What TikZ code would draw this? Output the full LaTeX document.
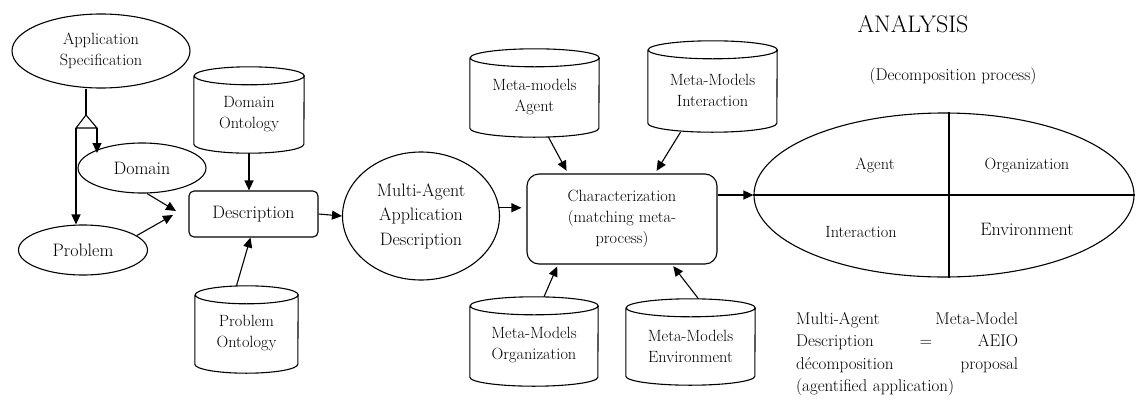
\documentclass[tikz,border=0pt]{standalone}
\usetikzlibrary{arrows.meta,shapes.geometric}
\tikzset{
 ln/.style={line width=1.1pt},
 arr/.style={line width=1.1pt, -{Triangle[length=10pt,width=9pt]}},
 sm/.style={font=\fontsize{16.3}{21}\selectfont, align=center},
 lg/.style={font=\fontsize{18}{24.5}\selectfont, align=center},
 ell/.style={ellipse, draw, line width=1.1pt, inner sep=0pt},
 rbox/.style={rectangle, draw, line width=1.1pt, inner sep=0pt},
 cylbox/.style={inner sep=0pt, rectangle},
}
\newcommand\cylnode[5]{%
 \node[cylbox, minimum width=#3, minimum height=#4] (#1) at #2 {};
 \node[sm, inner sep=0pt] (#1-t) at ([yshift=-4pt]#1.center) {#5};
 \draw[ln] ([yshift=-9pt]#1.north west) -- ([yshift=9pt]#1.south west)
   arc[start angle=180,end angle=360,x radius=#3/2,y radius=9pt]
   -- ([yshift=-9pt]#1.north east)
   arc[start angle=0,end angle=180,x radius=#3/2,y radius=9pt]
   arc[start angle=180,end angle=360,x radius=#3/2,y radius=9pt];
}
\begin{document}
\begin{tikzpicture}[x=1pt,y=-1pt]
\useasboundingbox (0,0) rectangle (1136,410);
% left part
\node[ell, sm, minimum width=178pt, minimum height=74pt] (appspec) at (101,51) {Application\\Specification};
\node[ell, lg, minimum width=128pt, minimum height=50pt] (domain) at (142,168) {Domain};
\node[ell, lg, minimum width=129pt, minimum height=50pt] (problem) at (83,250) {Problem};
\node[rbox, lg, rounded corners=5pt, minimum width=129pt, minimum height=46pt] (desc) at (253.5,214) {Description};
\cylnode{dont}{(249,110)}{110pt}{86pt}{Domain\\Ontology}
\cylnode{pont}{(246.5,329.5)}{103pt}{87pt}{Problem\\Ontology}
% generalization
\coordinate (apex) at (86,115);
\coordinate (tl) at (76,128);
\coordinate (tr) at (97,128);
\coordinate (dtop) at (97,153);
\draw[ln] (apex |- appspec.south) -- (apex);
\draw[ln, fill=white] (apex) -- (tr) -- (tl) -- cycle;
\draw[arr] (tl) -- (tl |- problem.north);
\draw[arr] (tr) -- (dtop);
\coordinate (dtip) at (176,211);
\coordinate (ptip) at (173,215);
\draw[arr] (domain.-79) -- (dtip);
\draw[arr] (problem.15) -- (ptip);
\draw[arr] (dont.south) -- (dont.south |- desc.north);
\draw[arr] ([xshift=-10pt]pont.north) -- ([xshift=-3pt]desc.south);
% middle
\node[ell, lg, minimum width=157pt, minimum height=128pt] (maad) at (421,216) {Multi-Agent\\Application\\Description};
\draw[arr] (desc.east) -- (maad.west);
\node[rbox, sm, rounded corners=12pt, minimum width=190pt, minimum height=90pt] (char) at (622,219) {Characterization\\(matching meta-\\process)};
\draw[arr, shorten >=5pt] (maad.6) -- (maad.6 -| char.west);
\cylnode{mma}{(534.5,93)}{129pt}{88pt}{Meta-models\\Agent}
\cylnode{mmi}{(712.5,86.5)}{129pt}{91pt}{Meta-Models\\Interaction}
\cylnode{mmo}{(534,341.5)}{128pt}{89pt}{Meta-Models\\Organization}
\cylnode{mme}{(690.5,342)}{129pt}{86pt}{Meta-Models\\Environment}
\draw[arr, shorten >=3pt] ([xshift=14pt]mma.south) -- ([xshift=-54pt]char.north);
\draw[arr, shorten >=3pt] ([xshift=-32pt]mmi.south) -- ([xshift=33pt]char.north);
\draw[arr, shorten >=2pt] ([xshift=10pt]mmo.north) -- ([xshift=-64pt]char.south);
\draw[arr, shorten >=2pt] ([xshift=8pt]mme.north) -- ([xshift=50pt]char.south);
% right
\node[ell, minimum width=380pt, minimum height=164pt] (aeio) at (944,195) {};
\draw[ln] (aeio.west) -- (aeio.east);
\draw[ln] ([xshift=5pt]aeio.north) -- ([xshift=5pt]aeio.south);
\draw[arr] (char.east |- aeio.west) -- (aeio.west);
\node[sm] (lagent) at (875,165) {Agent};
\node[sm] (lorg) at (1027,165) {Organization};
\node[sm] (linter) at (861,232) {Interaction};
\node[lg] (lenv) at (1027,229) {Environment};
\node[font=\fontsize{24}{28}\selectfont] (analysis) at (913,24) {ANALYSIS};
\node[font=\fontsize{17}{22}\selectfont] (decomp) at (953,76) {(Decomposition process)};
\node[font=\fontsize{17}{22.5}\selectfont, align=left, text width=222pt, inner sep=0pt, anchor=north west] (note) at (796,312)
 {Multi-Agent\hfill Meta-Model\\Description\hfill=\hfill AEIO\\d\'ecomposition\hfill proposal\\(agentified application)};
\end{tikzpicture}
\end{document}
